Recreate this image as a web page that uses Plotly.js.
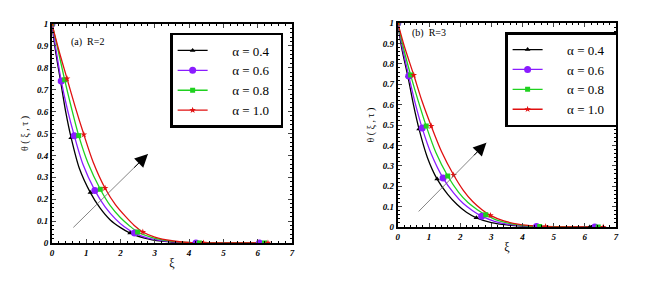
<!DOCTYPE html>
<html><head><meta charset="utf-8">
<script src="https://cdn.plot.ly/plotly-3.0.1.min.js"></script>
<style>html,body{margin:0;padding:0;background:#fff}#g{width:662px;height:292px}</style>
</head><body><div id="g"></div>
<script>
// ---- data ----
const seriesNames = ['\u03b1 = 0.4', '\u03b1 = 0.6', '\u03b1 = 0.8', '\u03b1 = 1.0'];
const panelLabels = ['(a)  R=2', '(b)  R=3'];
const xTicks = [0, 1, 2, 3, 4, 5, 6, 7];
const yTicks = [0, 0.1, 0.2, 0.3, 0.4, 0.5, 0.6, 0.7, 0.8, 0.9, 1];

// Panel (a) R=2
const a_x04 = [0,0.1,0.25,0.4,0.56,0.8,1.12,1.4,1.7,2.0,2.28,2.7,3.2,3.7,4.15,5.0,6.02];
const a_y04 = [1,0.88,0.74,0.6,0.48,0.34,0.23,0.16,0.105,0.07,0.045,0.022,0.008,0.002,0,0,0];
const a_x06 = [0,0.1,0.27,0.45,0.65,0.9,1.25,1.55,1.85,2.1,2.41,2.8,3.3,3.8,4.2,5.0,6.05];
const a_y06 = [1,0.9,0.74,0.61,0.49,0.36,0.24,0.165,0.11,0.075,0.045,0.022,0.008,0.002,0,0,0];
const a_x08 = [0,0.15,0.37,0.57,0.78,1.05,1.41,1.7,2.0,2.25,2.5,2.9,3.4,3.9,4.3,5.2,6.2];
const a_y08 = [1,0.9,0.745,0.615,0.49,0.365,0.245,0.17,0.115,0.08,0.05,0.025,0.009,0.002,0,0,0];
const a_x10 = [0,0.2,0.44,0.68,0.93,1.2,1.55,1.85,2.15,2.4,2.65,3.0,3.5,4.0,4.42,5.3,6.3];
const a_y10 = [1,0.88,0.75,0.62,0.495,0.37,0.25,0.175,0.12,0.08,0.05,0.027,0.01,0.002,0,0,0];

// Panel (b) R=3
const b_x04 = [0,0.12,0.32,0.5,0.68,0.95,1.26,1.6,1.9,2.2,2.52,3.0,3.5,4.0,4.4,5.3,6.16];
const b_y04 = [1,0.88,0.74,0.6,0.48,0.34,0.235,0.16,0.11,0.072,0.045,0.022,0.01,0.004,0.002,0,0];
const b_x06 = [0,0.13,0.35,0.56,0.78,1.08,1.45,1.8,2.1,2.4,2.69,3.1,3.6,4.1,4.45,5.4,6.32];
const b_y06 = [1,0.89,0.74,0.605,0.485,0.355,0.24,0.165,0.115,0.08,0.053,0.028,0.012,0.005,0.003,0,0];
const b_x08 = [0,0.16,0.41,0.66,0.91,1.22,1.6,1.95,2.25,2.55,2.82,3.2,3.7,4.2,4.55,5.5,6.43];
const b_y08 = [1,0.89,0.745,0.615,0.495,0.365,0.25,0.17,0.12,0.085,0.06,0.032,0.014,0.005,0.003,0,0];
const b_x10 = [0,0.2,0.51,0.78,1.07,1.4,1.79,2.1,2.4,2.7,2.97,3.4,3.9,4.4,4.74,5.6,6.59];
const b_y10 = [1,0.89,0.745,0.615,0.495,0.37,0.255,0.18,0.125,0.085,0.057,0.03,0.013,0.005,0.002,0,0];

// indices of the points that carry a symbol
const markerIdx = [0, 2, 4, 6, 10, 14, 16];

// arrow (start -> tip) in data units
const a_arrow = [0.58, 0.064, 2.8, 0.406];
const b_arrow = [0.62, 0.069, 2.84, 0.413];

// ---- styling ----
const serif = 'Liberation Serif';
const colors = ['#000000', '#8a1cff', '#1fd11f', '#e01010'];
const symbols = ['triangle-up', 'circle', 'square', 'star'];
const msizes = [5, 7, 5, 5];

const panels = [
  {xs:[a_x04,a_x06,a_x08,a_x10], ys:[a_y04,a_y06,a_y08,a_y10], xa:'x', ya:'y', leg:'legend', arrow:a_arrow},
  {xs:[b_x04,b_x06,b_x08,b_x10], ys:[b_y04,b_y06,b_y08,b_y10], xa:'x2', ya:'y2', leg:'legend2', arrow:b_arrow}
];

const traces = [];
panels.forEach(p => {
  for (let i = 0; i < 4; i++) {
    traces.push({x:p.xs[i], y:p.ys[i], xaxis:p.xa, yaxis:p.ya, mode:'lines',
      line:{color:colors[i], width:1.3, shape:'spline', smoothing:0.8}, showlegend:false, hoverinfo:'skip'});
  }
  for (let i = 0; i < 4; i++) {
    traces.push({x:markerIdx.map(k=>p.xs[i][k]), y:markerIdx.map(k=>p.ys[i][k]), xaxis:p.xa, yaxis:p.ya,
      mode:'markers', marker:{color:colors[i], symbol:symbols[i], size:msizes[i]}, showlegend:false, hoverinfo:'skip'});
  }
  for (let i = 0; i < 4; i++) {
    traces.push({x:[null], y:[null], xaxis:p.xa, yaxis:p.ya, mode:'lines+markers',
      name:'\u00a0\u00a0\u00a0\u00a0\u00a0\u00a0' + seriesNames[i] + '\u00a0\u00a0',
      legend:p.leg, line:{color:colors[i], width:1.3},
      marker:{color:colors[i], symbol:symbols[i], size:msizes[i]}});
  }
});

const tickFont = {family:serif, size:9, weight:'bold', style:'italic', color:'#000'};
function xax(domain, anchor) {
  return {domain:domain, anchor:anchor, range:[0,7], tickvals:xTicks, ticks:'inside', ticklen:4,
    tickwidth:1, linewidth:2, linecolor:'#000', mirror:'ticks', showgrid:false, zeroline:false,
    tickfont:tickFont, minor:{dtick:0.2, ticks:'inside', ticklen:2, tickcolor:'#000'},
    title:{text:'\u03be', font:{family:serif, size:12, color:'#000'}, standoff:2}};
}
function yax(domain, anchor) {
  return {domain:domain, anchor:anchor, range:[0,1], tickvals:yTicks, ticks:'inside', ticklen:4,
    tickwidth:1, linewidth:2, linecolor:'#000', mirror:'ticks', showgrid:false, zeroline:false,
    tickfont:tickFont, minor:{dtick:0.02, ticks:'inside', ticklen:2, tickcolor:'#000'},
    title:{text:'\u03b8 ( \u03be , \u03c4 )', font:{family:serif, size:10, color:'#000'}, standoff:6}};
}
function legendCfg(x, y) {
  return {x:x, y:y, xanchor:'left', yanchor:'top', bgcolor:'#fff', bordercolor:'#000', borderwidth:2.5,
    font:{family:serif, size:13, color:'#000'}, tracegroupgap:0, itemwidth:30};
}

const annotations = [];
const axPairs = [['x','y'],['x2','y2']];
panels.forEach((p, j) => {
  const [x0,y0,x1,y1] = p.arrow;
  annotations.push({xref:axPairs[j][0], yref:axPairs[j][1], axref:axPairs[j][0], ayref:axPairs[j][1],
    x:x1, y:y1, ax:x0, ay:y0, showarrow:true, arrowhead:0, arrowwidth:0.8, arrowcolor:'#666', text:''});
  annotations.push({xref:axPairs[j][0], yref:axPairs[j][1], axref:axPairs[j][0], ayref:axPairs[j][1],
    x:x1, y:y1, ax:x1-(x1-x0)*0.2, ay:y1-(y1-y0)*0.2, showarrow:true, arrowhead:2, arrowsize:2.6,
    arrowwidth:1, arrowcolor:'#000', text:''});
});
annotations.push({xref:'paper', yref:'paper', x:0.104, y:0.855, xanchor:'left', yanchor:'middle',
  text:panelLabels[0], showarrow:false, font:{family:serif, size:10, color:'#000'}});
annotations.push({xref:'paper', yref:'paper', x:0.619, y:0.887, xanchor:'left', yanchor:'middle',
  text:panelLabels[1], showarrow:false, font:{family:serif, size:10, color:'#000'}});

const layout = {
  width:662, height:292, margin:{l:0,r:0,t:0,b:0}, paper_bgcolor:'#fff', plot_bgcolor:'#fff',
  xaxis:xax([0.0785,0.441],'y'), yaxis:yax([0.168,0.918],'x'),
  xaxis2:xax([0.601,0.9305],'y2'), yaxis2:yax([0.2226,0.921],'x2'),
  legend:legendCfg(0.257,0.887), legend2:legendCfg(0.763,0.89),
  annotations:annotations, showlegend:true
};
Plotly.newPlot('g', traces, layout, {displayModeBar:false, staticPlot:true});
</script></body></html>
